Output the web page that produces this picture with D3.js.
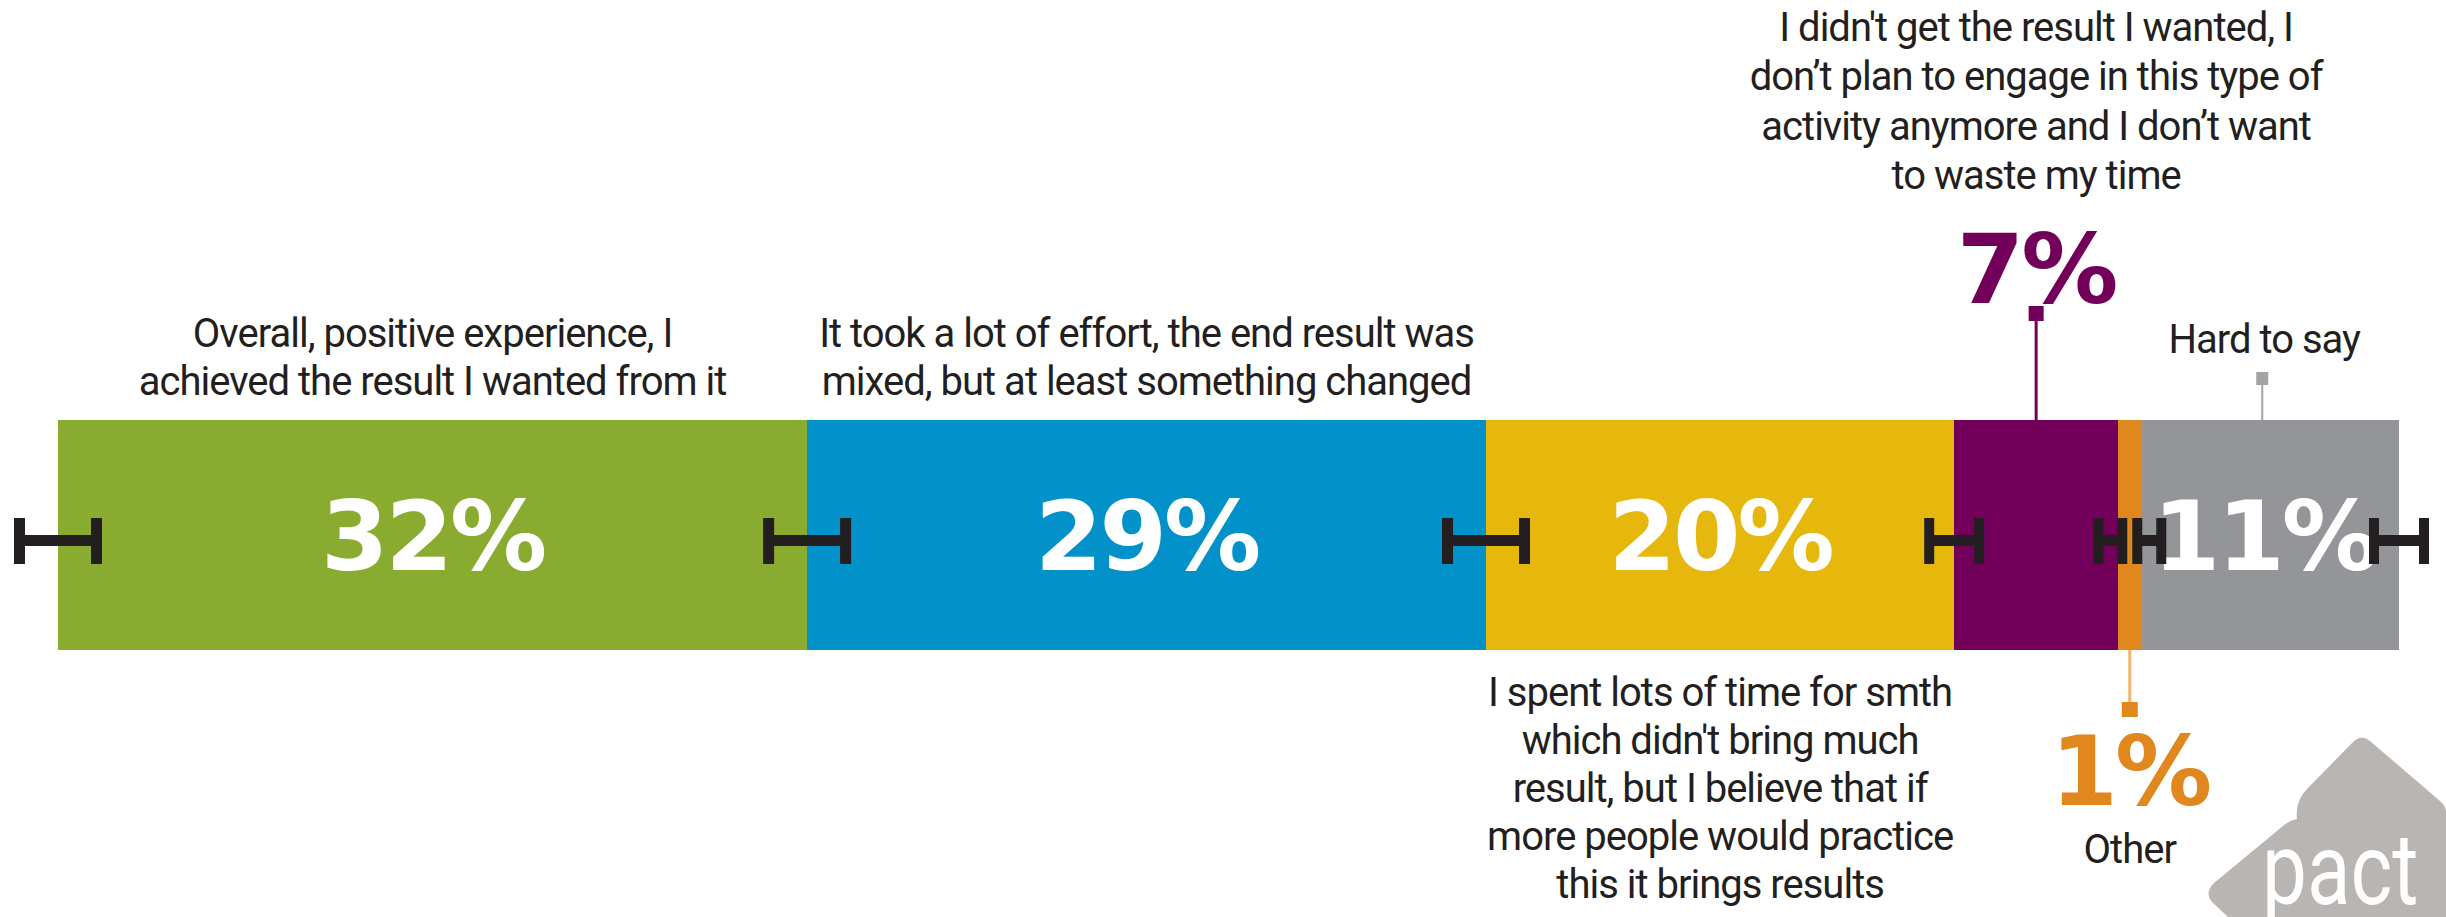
<!DOCTYPE html>
<html><head><meta charset="utf-8">
<script src="https://cdn.jsdelivr.net/npm/d3@7"></script>
<style>html,body{margin:0;padding:0;background:#fff;} svg{display:block}</style>
</head><body>
<svg id="chart" width="2446" height="917"></svg>
<script>
// ---------- data ----------
const categories = [
  "Overall, positive experience",
  "It took a lot of effort, mixed result",
  "Spent lots of time, little result",
  "Don't plan to engage anymore",
  "Other",
  "Hard to say"
];
const values = [32, 29, 20, 7, 1, 11];
const valueLabels = ["32%", "29%", "20%", "7%", "1%", "11%"];
const labelLines = [
  ["Overall, positive experience, I", "achieved the result I wanted from it"],
  ["It took a lot of effort, the end result was", "mixed, but at least something changed"],
  ["I spent lots of time for smth", "which didn't bring much", "result, but I believe that if", "more people would practice", "this it brings results"],
  ["I didn't get the result I wanted, I", "don’t plan to engage in this type of", "activity anymore and I don’t want", "to waste my time"],
  ["Other"],
  ["Hard to say"]
];
// ---------- styles ----------
const palette = ["#89ab2f", "#0391c9", "#e6b70d", "#72005b", "#e0881d", "#949598"];
const ink = "#231f20";
const labelFont = "Roboto, 'Liberation Sans', sans-serif";
const bigFont = "'DejaVu Sans', 'Liberation Sans', sans-serif";

const svg = d3.select("#chart");
const x = d3.scaleLinear().domain([0, 100]).range([58, 2399]);
const y = d3.scaleBand().domain(["all"]).range([420, 650]).padding(0);
const barTop = y("all"), barBot = y("all") + y.bandwidth(), barMid = (barTop + barBot) / 2;

const ends = d3.cumsum(values);
const segs = values.map((v, i) => ({
  i, name: categories[i], value: v, label: valueLabels[i],
  x0: ends[i] - v, x1: ends[i], color: palette[i], lines: labelLines[i]
}));
segs.forEach(d => d.cx = (x(d.x0) + x(d.x1)) / 2);

// bars
svg.append("g").selectAll("rect").data(segs).join("rect")
  .attr("x", d => x(d.x0)).attr("width", d => x(d.x1) - x(d.x0))
  .attr("y", barTop).attr("height", y.bandwidth())
  .attr("fill", d => d.color).attr("shape-rendering", "crispEdges");

// big value labels
const bigSize = 97, capH = bigSize * 0.729;
function bigText(g, d, cx, baseline, fill) {
  g.append("text").attr("x", cx).attr("y", baseline)
    .attr("text-anchor", "middle").attr("fill", fill)
    .style("font-family", bigFont).style("font-weight", "bold")
    .style("font-size", bigSize + "px").style("letter-spacing", "-3px")
    .text(d.label);
}
const big = svg.append("g");
segs.filter(d => d.value >= 10).forEach(d => bigText(big, d, d.cx - (d.value < 15 ? 6 : 0), barMid + capH / 2, "#fff"));

// label helper
function lines(g, arr, cx, firstBaseline, lh) {
  g.append("text").attr("text-anchor", "middle").attr("fill", ink)
    .style("font-family", labelFont).style("font-size", "40px").style("letter-spacing", "-1px")
    .selectAll("tspan").data(arr).join("tspan")
    .attr("x", cx).attr("y", (t, k) => firstBaseline + k * lh).text(t => t);
}
const lab = svg.append("g");
// green & blue: above
[0, 1].forEach(i => lines(lab, segs[i].lines, segs[i].cx, 347, 48));
// yellow: below
lines(lab, segs[2].lines, segs[2].cx, 706, 48);
// purple: callout above
{
  const d = segs[3];
  lines(lab, d.lines, d.cx, 41, 49.4);
  lab.append("line").attr("x1", d.cx).attr("x2", d.cx).attr("y1", 320).attr("y2", barTop)
    .attr("stroke", d.color).attr("stroke-width", 3);
  lab.append("rect").attr("x", d.cx - 7.5).attr("y", 306).attr("width", 15).attr("height", 15).attr("fill", d.color);
  bigText(lab, d, d.cx, 303, d.color);
}
// orange: callout below
{
  const d = segs[4];
  lab.append("line").attr("x1", d.cx).attr("x2", d.cx).attr("y1", barBot).attr("y2", 704)
    .attr("stroke", "#f2b46e").attr("stroke-width", 3);
  lab.append("rect").attr("x", d.cx - 8).attr("y", 702).attr("width", 16).attr("height", 15).attr("fill", d.color);
  bigText(lab, d, d.cx, 805, d.color);
  lines(lab, d.lines, d.cx, 863, 48);
}
// gray: small marker above
{
  const d = segs[5];
  lines(lab, d.lines, d.cx - 6, 353, 48);
  lab.append("line").attr("x1", d.cx - 8).attr("x2", d.cx - 8).attr("y1", 384).attr("y2", barTop)
    .attr("stroke", "#a3a3a6").attr("stroke-width", 2);
  lab.append("rect").attr("x", d.cx - 14).attr("y", 372).attr("width", 12).attr("height", 13).attr("fill", "#a3a3a6");
}

// H-shaped boundary markers
const bounds = [0, ...ends];
const markers = bounds.map((b, k) => {
  const L = k > 0 ? values[k - 1] : Infinity, R = k < values.length ? values[k] : Infinity;
  const bx = x(b);
  let hw, cx = bx, sw;
  if (Math.min(L, R) < 2) {
    hw = 17; sw = 10;
    if (R < 2) cx = (bx + x(bounds[k + 1])) / 2 - 2.5 - hw;
    else cx = (x(bounds[k - 1]) + bx) / 2 + 2.5 + hw;
  } else if (Math.min(L, R) < 20) { hw = 30; sw = 10; }
  else { hw = 44; sw = 11; }
  return { cx, hw, sw };
});
const hTop = barMid - 17, hBot = barMid + 29, cbT = barMid, cbB = barMid + 11;
svg.append("g").selectAll("path").data(markers).join("path")
  .attr("fill", ink)
  .attr("d", m => {
    const l = m.cx - m.hw, r = m.cx + m.hw, s = m.sw;
    return `M${l},${hTop}H${l + s}V${cbT}H${r - s}V${hTop}H${r}V${hBot}H${r - s}V${cbB}H${l + s}V${hBot}H${l}Z`;
  });

// pact logo
const logo = svg.append("g");
logo.append("path").attr("fill", "#b8b5b3")
  .attr("d", "M2446,917 V812 Q2446,806 2440,801 L2370,741 Q2362,734 2354,741 L2307,789 Q2295,801 2297,819 Q2290,820 2283,826 L2214,883 Q2204,893 2212,902 L2228,917 Z");
logo.append("text").attr("transform", "translate(2262,904) scale(0.8,1)").attr("fill", "#fff")
  .style("font-family", "Roboto, sans-serif").style("font-size", "100px").text("pact");
</script>
</body></html>
